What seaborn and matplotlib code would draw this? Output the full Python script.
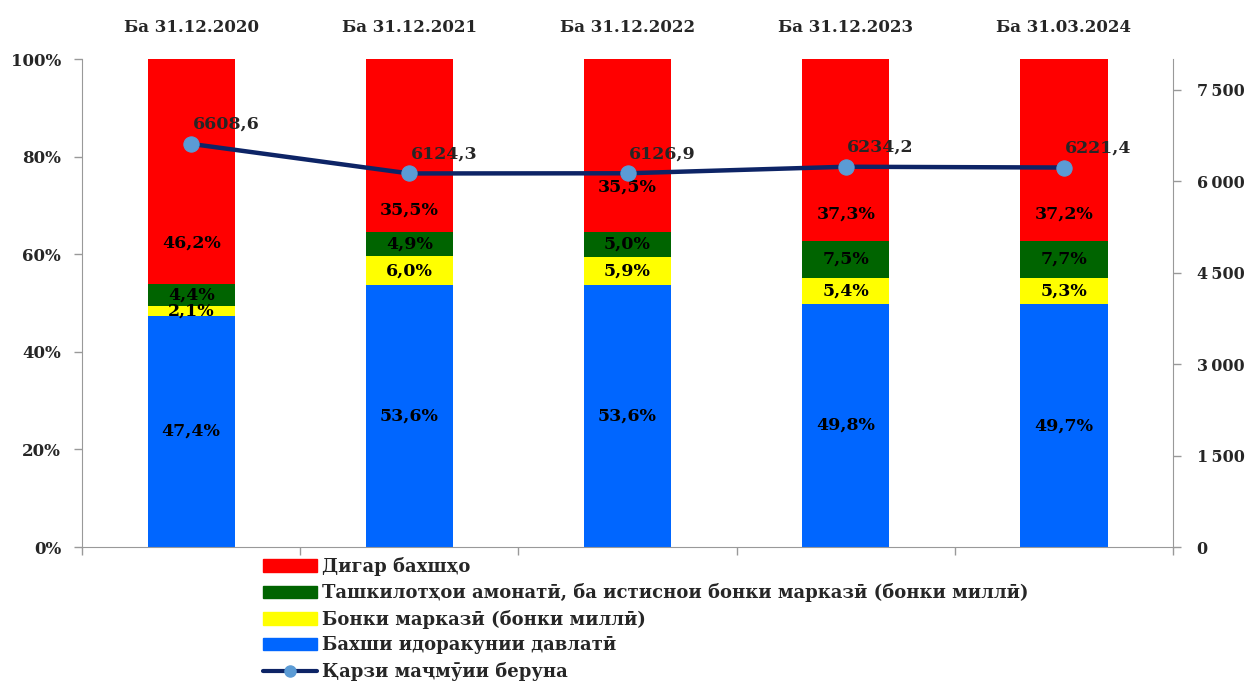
import numpy as np
import pandas as pd
import matplotlib.pyplot as plt
import seaborn as sns
from matplotlib.patches import Patch
from matplotlib.lines import Line2D

dates = ["Ба 31.12.2020", "Ба 31.12.2021", "Ба 31.12.2022", "Ба 31.12.2023", "Ба 31.03.2024"]
gov = [47.4, 53.6, 53.6, 49.8, 49.7]
central = [2.1, 6.0, 5.9, 5.4, 5.3]
deposit = [4.4, 4.9, 5.0, 7.5, 7.7]
other = [46.2, 35.5, 35.5, 37.3, 37.2]
debt = [6608.6, 6124.3, 6126.9, 6234.2, 6221.4]

gov_name = "Бахши идоракунии давлатӣ"
central_name = "Бонки марказӣ (бонки миллӣ)"
deposit_name = "Ташкилотҳои амонатӣ, ба истиснои бонки марказӣ (бонки миллӣ)"
other_name = "Дигар бахшҳо"
debt_name = "Қарзи маҷмӯии беруна"

colors = ["#0066FF", "#FFFF00", "#006400", "#FF0000"]
line_col = "#0D2466"
dot_col = "#5B9BD5"
red_label_y = [62.3, 69.1, 73.8, 68.2, 68.2]

sns.set_style("white")
plt.rcParams['font.family'] = ['DejaVu Serif']

fig = plt.figure(figsize=(12.47, 6.88), dpi=100)
ax = fig.add_axes([0.0658, 0.2049, 0.8749, 0.7093])

df = pd.DataFrame({"date": dates, "gov": gov, "central": central, "deposit": deposit, "other": other})
tot = df[["gov", "central", "deposit", "other"]].sum(axis=1)
bottom = np.zeros(len(df))
for col, c in zip(["gov", "central", "deposit", "other"], colors):
    h = df[col] / tot * 100
    sns.barplot(x=df["date"], y=h, bottom=bottom, color=c, width=0.4, ax=ax,
                saturation=1, edgecolor="none", linewidth=0)
    for i, (b, v, raw) in enumerate(zip(bottom, h, df[col])):
        y = red_label_y[i] if col == "other" else b + v / 2
        ax.text(i, y, f"{raw:.1f}%".replace(".", ","), ha="center", va="center",
                fontsize=12.5, fontweight="bold", color="black")
    bottom = bottom + h.values

ax.set_ylim(0, 100)
ax.set_xlim(-0.5, 4.5)
ax.set_yticks(np.arange(0, 101, 20))
ax.set_yticklabels([f"{v}%" for v in range(0, 101, 20)])
ax.set_xlabel("")
ax.set_ylabel("")
ax.tick_params(axis="x", bottom=False, top=False, labelbottom=False, labeltop=True, pad=13)
ax.set_xticks(np.arange(-0.5, 5, 1), minor=True)
ax.tick_params(axis="x", which="minor", bottom=True, length=6, width=1, color="#999999", direction="out")
ax.tick_params(axis="y", left=True, length=6, width=1, color="#999999", direction="out", pad=9)
for lab in ax.get_xticklabels() + ax.get_yticklabels():
    lab.set_fontweight("bold")
    lab.set_fontsize(12)
for s in ["top", "right"]:
    ax.spines[s].set_visible(False)
for s in ["left", "bottom"]:
    ax.spines[s].set_color("#999999")

ax2 = ax.twinx()
x = np.arange(len(debt))
sns.lineplot(x=x, y=debt, ax=ax2, color=line_col, linewidth=3.2, marker="o",
             markersize=11, markerfacecolor=dot_col, markeredgecolor=dot_col)
for xi, v in zip(x, debt):
    ax2.annotate(f"{v:.1f}".replace(".", ","), (xi, v), xytext=(1, 14), textcoords="offset points",
                 ha="left", va="center", fontsize=12.5, fontweight="bold")
ax2.set_ylim(0, 8000)
ax2.set_yticks(np.arange(0, 7501, 1500))
ax2.set_yticklabels([f"{v:,}".replace(",", "\u2009") for v in range(0, 7501, 1500)])
ax2.tick_params(axis="y", right=True, length=6, width=1, color="#999999", direction="out", pad=11)
for lab in ax2.get_yticklabels():
    lab.set_fontweight("bold")
    lab.set_fontsize(11.5)
for s in ["top", "left", "bottom"]:
    ax2.spines[s].set_visible(False)
ax2.spines["right"].set_color("#999999")
ax2.set_xlim(-0.5, 4.5)

handles = [Patch(color=colors[3], label=other_name),
           Patch(color=colors[2], label=deposit_name),
           Patch(color=colors[1], label=central_name),
           Patch(color=colors[0], label=gov_name),
           Line2D([], [], color=line_col, linewidth=3, marker="o", markersize=8,
                  markerfacecolor=dot_col, markeredgecolor=dot_col, label=debt_name)]
fig.legend(handles=handles, loc="upper left", bbox_to_anchor=(0.211, 0.191), frameon=False,
           prop={"size": 13, "weight": "bold"}, handlelength=3.0, handleheight=0.7,
           handletextpad=0.25, labelspacing=0.42, borderaxespad=0, borderpad=0)

fig.savefig("out.png", dpi=100)
